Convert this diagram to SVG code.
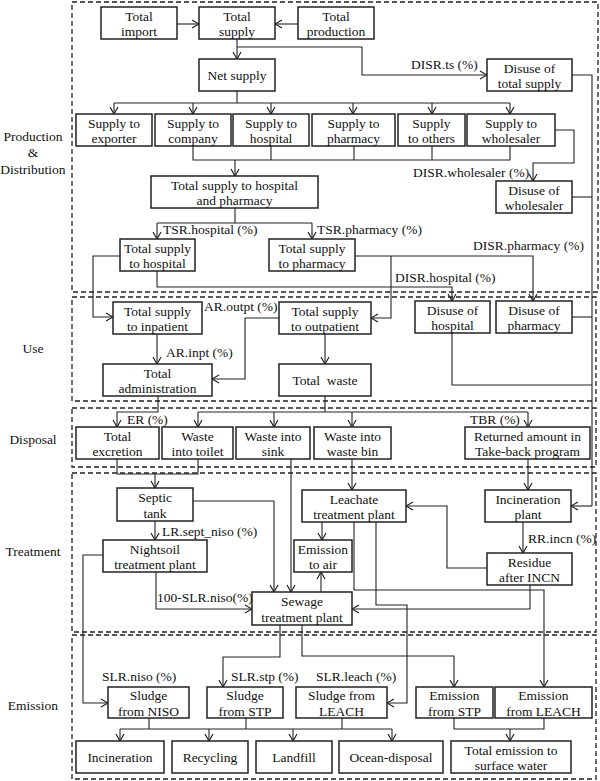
<svg xmlns="http://www.w3.org/2000/svg" width="600" height="781" viewBox="0 0 600 781">
<defs>
<marker id="ah" markerUnits="userSpaceOnUse" markerWidth="10" markerHeight="10" viewBox="0 0 10 10" refX="9" refY="5" orient="auto">
<path d="M2,1 L9,5 L2,9" fill="none" stroke="#222" stroke-width="1.2"/>
</marker>
</defs>
<style>
text{font-family:"Liberation Serif","Times New Roman",serif;font-size:13.5px;fill:#111}
.n rect{fill:#fff;stroke:#222;stroke-width:1.5}
.n text{text-anchor:middle}
.sec{fill:none;stroke:#222;stroke-width:1.3;stroke-dasharray:5 3}
.c path{fill:none;stroke:#222;stroke-width:1.1}
.c path.a{marker-end:url(#ah)}
.sl{text-anchor:middle}
</style>
<rect id="sec-prod" class="sec" x="72" y="2" width="526" height="290"/>
<rect id="sec-use" class="sec" x="72" y="297" width="524" height="104"/>
<rect id="sec-disp" class="sec" x="72" y="408" width="524" height="59"/>
<rect id="sec-treat" class="sec" x="72" y="473" width="524" height="159"/>
<rect id="sec-emis" class="sec" x="72" y="635" width="524" height="144"/>
<g id="section-labels">
<text class="sl" x="33" y="140.5">Production</text>
<text class="sl" x="33" y="157">&amp;</text>
<text class="sl" x="33" y="173.5">Distribution</text>
<text class="sl" x="33" y="352.5">Use</text>
<text class="sl" x="33" y="443.5">Disposal</text>
<text class="sl" x="33" y="555.5">Treatment</text>
<text class="sl" x="33" y="710">Emission</text>
</g>
<g id="connectors" class="c">
<path class="a" d="M177,24 H199"/>
<path class="a" d="M298,24 H275"/>
<path class="a" d="M237,39 V59"/>
<path class="a" d="M237,47 H362 V75 H487"/>
<path d="M237,91 V103"/>
<path d="M114,103 H510"/>
<path class="a" d="M114,103 V114"/>
<path class="a" d="M193,103 V114"/>
<path class="a" d="M271,103 V114"/>
<path class="a" d="M353,103 V114"/>
<path class="a" d="M432,103 V114"/>
<path class="a" d="M510,103 V114"/>
<path d="M193,146 V160 H510 V146"/>
<path d="M271,146 V160"/>
<path d="M354,146 V160"/>
<path d="M432,146 V160"/>
<path class="a" d="M235,160 V176"/>
<path class="a" d="M555,130 H574 V163 H533 V181"/>
<path d="M572,75 H592 V506"/>
<path class="a" d="M592,506 H571"/>
<path d="M572,197 H592"/>
<path d="M572,317 H592"/>
<path d="M452,333 V385 H592"/>
<path d="M235,208 V223"/>
<path d="M157,223 H312"/>
<path class="a" d="M157,223 V239"/>
<path class="a" d="M312,223 V239"/>
<path class="a" d="M120,256 H93 V317 H113"/>
<path class="a" d="M157,271 V287 H452 V301"/>
<path class="a" d="M355,256 H533 V301"/>
<path class="a" d="M391,256 V318 H371"/>
<path class="a" d="M157,334 V364"/>
<path class="a" d="M279,318 H245 V379 H212"/>
<path class="a" d="M325,334 V364"/>
<path class="a" d="M158,396 V412 H117 V427"/>
<path d="M325,396 V412"/>
<path d="M198,412 H528"/>
<path class="a" d="M198,412 V427"/>
<path class="a" d="M274,412 V427"/>
<path class="a" d="M352,412 V427"/>
<path class="a" d="M528,412 V427"/>
<path d="M117,459 V474 H198 V459"/>
<path class="a" d="M155,474 V488"/>
<path class="a" d="M193,501 H274 V592"/>
<path class="a" d="M291,459 V592"/>
<path class="a" d="M352,459 V490"/>
<path class="a" d="M155,521 V540"/>
<path class="a" d="M103,555 H83 V703 H108"/>
<path class="a" d="M156,572 V609 H252"/>
<path class="a" d="M322,522 V540"/>
<path class="a" d="M321,592 V572"/>
<path class="a" d="M528,459 V490"/>
<path class="a" d="M523,522 V553"/>
<path class="a" d="M487,568 H447 V506 H406"/>
<path class="a" d="M530,585 V609 H352"/>
<path class="a" d="M354,522 V590 H544 V687"/>
<path class="a" d="M376,522 V605 H407 V703 H387"/>
<path class="a" d="M280,625 V657 H223 V687"/>
<path class="a" d="M302,625 V656 H454 V687"/>
<path d="M149,718 V729"/>
<path d="M246,718 V729"/>
<path d="M342,718 V729"/>
<path d="M120,729 H392"/>
<path class="a" d="M120,729 V741"/>
<path class="a" d="M209,729 V741"/>
<path class="a" d="M293,729 V741"/>
<path class="a" d="M392,729 V741"/>
<path d="M454,718 V729 H544 V718"/>
<path class="a" d="M510,729 V741"/>
</g>
<g id="edge-labels">
<text x="411" y="69">DISR.ts (%)</text>
<text x="413" y="177">DISR.wholesaler (%)</text>
<text x="163" y="234">TSR.hospital (%)</text>
<text x="317" y="234">TSR.pharmacy (%)</text>
<text x="473" y="250">DISR.pharmacy (%)</text>
<text x="395" y="282">DISR.hospital (%)</text>
<text x="204" y="310.5">AR.outpt (%)</text>
<text x="166" y="356.5">AR.inpt (%)</text>
<text x="127" y="424">ER (%)</text>
<text x="470" y="424">TBR (%)</text>
<text x="162" y="535.5">LR.sept_niso (%)</text>
<text x="528" y="543">RR.incn (%)</text>
<text x="157" y="602">100-SLR.niso(%)</text>
<text x="102" y="680.5">SLR.niso (%)</text>
<text x="231" y="680.5">SLR.stp (%)</text>
<text x="316" y="680.5">SLR.leach (%)</text>
</g>
<g id="total-import" class="n"><rect x="101" y="7" width="76" height="32"/><text x="139" y="20.5">Total</text><text x="139" y="36">import</text></g>
<g id="total-supply" class="n"><rect x="199" y="7" width="76" height="32"/><text x="237" y="20.5">Total</text><text x="237" y="36">supply</text></g>
<g id="total-production" class="n"><rect x="298" y="7" width="76" height="32"/><text x="336" y="20.5">Total</text><text x="336" y="36">production</text></g>
<g id="net-supply" class="n"><rect x="199" y="59" width="76" height="32"/><text x="237" y="80">Net supply</text></g>
<g id="disuse-total-supply" class="n"><rect x="487" y="59" width="85" height="32"/><text x="529.5" y="72.5">Disuse of</text><text x="529.5" y="88">total supply</text></g>
<g id="supply-exporter" class="n"><rect x="76" y="114" width="76" height="32"/><text x="114" y="127.5">Supply to</text><text x="114" y="143">exporter</text></g>
<g id="supply-company" class="n"><rect x="155" y="114" width="76" height="32"/><text x="193" y="127.5">Supply to</text><text x="193" y="143">company</text></g>
<g id="supply-hospital" class="n"><rect x="233" y="114" width="76" height="32"/><text x="271" y="127.5">Supply to</text><text x="271" y="143">hospital</text></g>
<g id="supply-pharmacy" class="n"><rect x="312" y="114" width="83" height="32"/><text x="353.5" y="127.5">Supply to</text><text x="353.5" y="143">pharmacy</text></g>
<g id="supply-others" class="n"><rect x="398" y="114" width="67" height="32"/><text x="431.5" y="127.5">Supply</text><text x="431.5" y="143">to others</text></g>
<g id="supply-wholesaler" class="n"><rect x="467" y="114" width="88" height="32"/><text x="511" y="127.5">Supply to</text><text x="511" y="143">wholesaler</text></g>
<g id="total-supply-hosp-pharm" class="n"><rect x="151" y="176" width="167" height="32"/><text x="234.5" y="189.5">Total supply to hospital</text><text x="234.5" y="205">and pharmacy</text></g>
<g id="disuse-wholesaler" class="n"><rect x="496" y="181" width="76" height="32"/><text x="534" y="194.5">Disuse of</text><text x="534" y="210">wholesaler</text></g>
<g id="total-supply-hospital" class="n"><rect x="120" y="239" width="75" height="32"/><text x="157.5" y="252.5">Total supply</text><text x="157.5" y="268">to hospital</text></g>
<g id="total-supply-pharmacy" class="n"><rect x="269" y="239" width="86" height="32"/><text x="312" y="252.5">Total supply</text><text x="312" y="268">to pharmacy</text></g>
<g id="total-supply-inpatient" class="n"><rect x="113" y="302" width="89" height="32"/><text x="157.5" y="315.5">Total supply</text><text x="157.5" y="331">to inpatient</text></g>
<g id="total-supply-outpatient" class="n"><rect x="279" y="302" width="92" height="32"/><text x="325" y="315.5">Total supply</text><text x="325" y="331">to outpatient</text></g>
<g id="disuse-hospital" class="n"><rect x="415" y="301" width="75" height="32"/><text x="452.5" y="314.5">Disuse of</text><text x="452.5" y="330">hospital</text></g>
<g id="disuse-pharmacy" class="n"><rect x="496" y="301" width="76" height="32"/><text x="534" y="314.5">Disuse of</text><text x="534" y="330">pharmacy</text></g>
<g id="total-administration" class="n"><rect x="103" y="364" width="109" height="32"/><text x="157.5" y="377.5">Total</text><text x="157.5" y="393">administration</text></g>
<g id="total-waste" class="n"><rect x="279" y="364" width="92" height="32"/><text x="325" y="385" xml:space="preserve" style="white-space:pre">Total  waste</text></g>
<g id="total-excretion" class="n"><rect x="76" y="427" width="83" height="32"/><text x="117.5" y="440.5">Total</text><text x="117.5" y="456">excretion</text></g>
<g id="waste-toilet" class="n"><rect x="162" y="427" width="71" height="32"/><text x="197.5" y="440.5">Waste</text><text x="197.5" y="456">into toilet</text></g>
<g id="waste-sink" class="n"><rect x="236" y="427" width="74" height="32"/><text x="273" y="440.5">Waste into</text><text x="273" y="456">sink</text></g>
<g id="waste-bin" class="n"><rect x="314" y="427" width="77" height="32"/><text x="352.5" y="440.5">Waste into</text><text x="352.5" y="456">waste bin</text></g>
<g id="returned-amount" class="n"><rect x="465" y="427" width="125" height="32"/><text x="527.5" y="440.5">Returned amount in</text><text x="527.5" y="456">Take-back program</text></g>
<g id="septic-tank" class="n"><rect x="117" y="488" width="76" height="33"/><text x="155" y="502">Septic</text><text x="155" y="517.5">tank</text></g>
<g id="nightsoil-plant" class="n"><rect x="103" y="540" width="104" height="32"/><text x="155" y="553.5">Nightsoil</text><text x="155" y="569">treatment plant</text></g>
<g id="leachate-plant" class="n"><rect x="302" y="490" width="104" height="32"/><text x="354" y="503.5">Leachate</text><text x="354" y="519">treatment plant</text></g>
<g id="incineration-plant" class="n"><rect x="485" y="490" width="86" height="32"/><text x="528" y="503.5">Incineration</text><text x="528" y="519">plant</text></g>
<g id="emission-air" class="n"><rect x="294" y="540" width="58" height="32"/><text x="323" y="553.5">Emission</text><text x="323" y="569">to air</text></g>
<g id="residue" class="n"><rect x="487" y="553" width="85" height="32"/><text x="529.5" y="566.5">Residue</text><text x="529.5" y="582">after INCN</text></g>
<g id="sewage-plant" class="n"><rect x="252" y="592" width="100" height="33"/><text x="302" y="606">Sewage</text><text x="302" y="621.5">treatment plant</text></g>
<g id="sludge-niso" class="n"><rect x="108" y="687" width="81" height="31"/><text x="148.5" y="700">Sludge</text><text x="148.5" y="715.5">from NISO</text></g>
<g id="sludge-stp" class="n"><rect x="207" y="687" width="76" height="31"/><text x="245" y="700">Sludge</text><text x="245" y="715.5">from STP</text></g>
<g id="sludge-leach" class="n"><rect x="296" y="687" width="91" height="31"/><text x="341.5" y="700">Sludge from</text><text x="341.5" y="715.5">LEACH</text></g>
<g id="emission-stp" class="n"><rect x="416" y="687" width="77" height="31"/><text x="454.5" y="700">Emission</text><text x="454.5" y="715.5">from STP</text></g>
<g id="emission-leach" class="n"><rect x="495" y="687" width="97" height="31"/><text x="543.5" y="700">Emission</text><text x="543.5" y="715.5">from LEACH</text></g>
<g id="incineration" class="n"><rect x="76" y="741" width="88" height="32"/><text x="120" y="762">Incineration</text></g>
<g id="recycling" class="n"><rect x="172" y="741" width="76" height="32"/><text x="210" y="762">Recycling</text></g>
<g id="landfill" class="n"><rect x="256" y="741" width="76" height="32"/><text x="294" y="762">Landfill</text></g>
<g id="ocean-disposal" class="n"><rect x="339" y="741" width="104" height="32"/><text x="391" y="762">Ocean-disposal</text></g>
<g id="total-emission-surface" class="n"><rect x="451" y="741" width="120" height="32"/><text x="511" y="754.5">Total emission to</text><text x="511" y="770">surface water</text></g>
</svg>
